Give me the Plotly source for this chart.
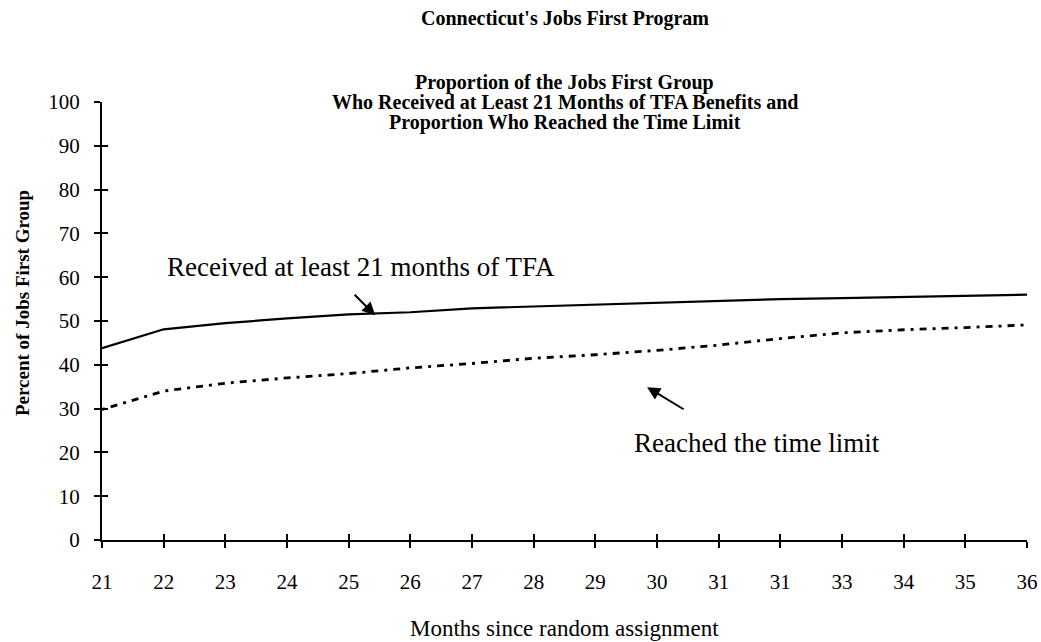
import plotly.graph_objects as go

months = list(range(21, 37))
tick_labels = ["21", "22", "23", "24", "25", "26", "27", "28", "29", "30",
               "31", "31", "33", "34", "35", "36"]
received_21 = [43.8, 48.1, 49.5, 50.6, 51.5, 52.0, 52.9, 53.3, 53.7, 54.2,
               54.6, 55.0, 55.2, 55.5, 55.7, 56.0]
reached_limit = [29.8, 34.0, 35.8, 37.0, 38.0, 39.3, 40.3, 41.5, 42.3, 43.3,
                 44.5, 46.0, 47.3, 48.0, 48.5, 49.1]
y_ticks = list(range(0, 101, 10))

title_lines = ["Connecticut's Jobs First Program",
               "Proportion of the Jobs First Group",
               "Who Received at Least 21 Months of TFA Benefits and",
               "Proportion Who Reached the Time Limit"]

FONT = "Liberation Serif"

fig = go.Figure()
fig.add_trace(go.Scatter(x=months, y=received_21, mode="lines",
                         line=dict(color="black", width=2.2), showlegend=False))
fig.add_trace(go.Scatter(x=months, y=reached_limit, mode="lines",
                         line=dict(color="black", width=2.8, dash="3px,6px,7px,6px"),
                         showlegend=False))
# invisible trace to activate overlay axes (ticks crossing the axis lines)
fig.add_trace(go.Scatter(x=[months[0]], y=[0], xaxis="x2", yaxis="y2",
                         mode="markers", marker=dict(opacity=0),
                         showlegend=False, hoverinfo="skip"))

axis_common = dict(showgrid=False, zeroline=False, showline=True,
                   linecolor="black", linewidth=2, tickcolor="black",
                   tickwidth=2, ticklen=6, automargin=False)

fig.update_layout(
    width=1041, height=642,
    paper_bgcolor="white", plot_bgcolor="white",
    margin=dict(l=102, r=14, t=102, b=102, autoexpand=False),
    font=dict(family=FONT, color="black"),
    xaxis=dict(range=[21, 36], tickvals=months, ticktext=tick_labels,
               ticks="outside", tickfont=dict(size=21, family=FONT),
               ticklabelstandoff=16, **axis_common),
    yaxis=dict(range=[0, 100], tickvals=y_ticks, ticks="outside",
               tickfont=dict(size=21, family=FONT), ticklabelstandoff=10,
               **axis_common),
    xaxis2=dict(range=[21, 36], overlaying="x", tickvals=months, ticks="inside",
                showticklabels=False, anchor="y", side="bottom", **axis_common),
    yaxis2=dict(range=[0, 100], overlaying="y", tickvals=y_ticks, ticks="inside",
                showticklabels=False, anchor="x", side="left", **axis_common),
)

# titles (pixel offsets from the top of the plot area)
for line, shift in zip(title_lines, [84, 20, 0, -20]):
    fig.add_annotation(xref="paper", yref="paper", x=0.5, y=1.0, yshift=shift,
                       text=f"<b>{line}</b>", showarrow=False,
                       font=dict(size=20, family=FONT),
                       xanchor="center", yanchor="middle")

# y-axis title
fig.add_annotation(xref="paper", yref="paper", x=0, y=0.541, xshift=-80,
                   text="<b>Percent of Jobs First Group</b>", textangle=-90,
                   showarrow=False, font=dict(size=19, family=FONT),
                   xanchor="center", yanchor="middle")
# x-axis title
fig.add_annotation(xref="paper", yref="paper", x=0.5, y=0, yshift=-88,
                   text="Months since random assignment", showarrow=False,
                   font=dict(size=23, family=FONT),
                   xanchor="center", yanchor="middle")

# callouts
fig.add_annotation(x=25.43, y=51.3, ax=-22, ay=-22, text="", showarrow=True,
                   arrowhead=2, arrowsize=1.3, arrowwidth=2, arrowcolor="black")
fig.add_annotation(x=25.2, y=62.3, text="Received at least 21 months of TFA",
                   showarrow=False, font=dict(size=27, family=FONT))
fig.add_annotation(x=29.84, y=34.9, ax=38, ay=23, text="", showarrow=True,
                   arrowhead=2, arrowsize=1.3, arrowwidth=2, arrowcolor="black")
fig.add_annotation(x=31.62, y=22.1, text="Reached the time limit",
                   showarrow=False, font=dict(size=27, family=FONT))

fig.write_html("out.html",
               config={"displayModeBar": False},
               post_script="document.body.style.margin='0';"
                           "document.body.style.overflow='hidden';")
